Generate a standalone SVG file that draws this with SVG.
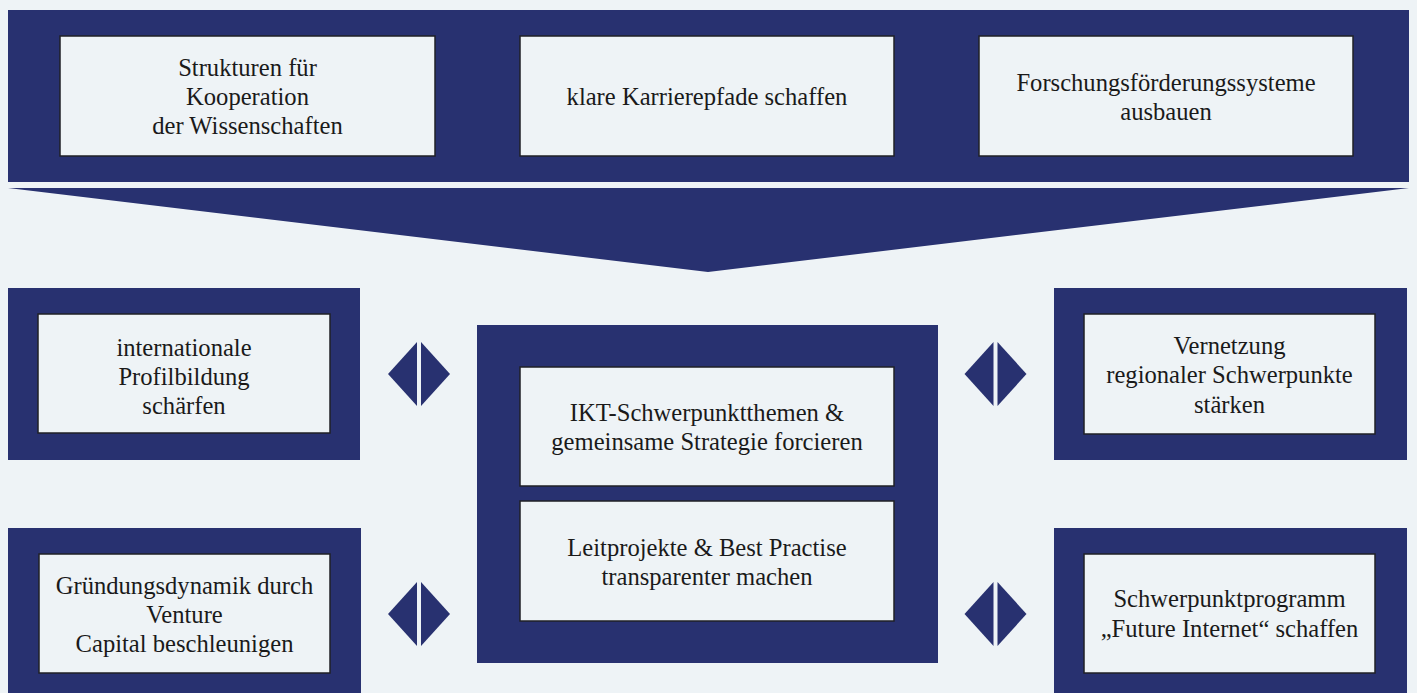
<svg xmlns="http://www.w3.org/2000/svg" width="1417" height="693" viewBox="0 0 1417 693">
  <style>
    .band { fill: #283170; }
    .box { fill: #eef3f6; stroke: #1f2126; stroke-width: 1.5; }
    .lbl { font-family: "Liberation Serif", "DejaVu Serif", serif; font-size: 24.6px; fill: #1a1a1a; text-anchor: middle; }
    .arr { fill: #283170; }
  </style>
  <defs>
    <!-- split diamond: two triangles facing apart -->
    <g id="splitDiamond">
      <polygon class="arr" points="-31,0 -2,-32 -2,32"/>
      <polygon class="arr" points="31,0 2,-32 2,32"/>
    </g>
  </defs>
  <rect width="1417" height="693" fill="#eef3f6"/>

  <!-- top band with three goals -->
  <g id="top-band">
    <rect class="band" x="8" y="10" width="1401" height="172"/>
    <polygon class="band" points="8,188 1409,188 708,272"/>
  </g>
  <g id="n-strukturen">
    <rect class="box" x="60" y="36" width="375" height="120"/>
    <text class="lbl" x="247.5" y="76">Strukturen für</text>
    <text class="lbl" x="247.5" y="105">Kooperation</text>
    <text class="lbl" x="247.5" y="134">der Wissenschaften</text>
  </g>
  <g id="n-karriere">
    <rect class="box" x="520" y="36" width="374" height="120"/>
    <text class="lbl" x="707" y="105">klare Karrierepfade schaffen</text>
  </g>
  <g id="n-forschung">
    <rect class="box" x="979" y="36" width="374" height="120"/>
    <text class="lbl" x="1166" y="91">Forschungsförderungssysteme</text>
    <text class="lbl" x="1166" y="120">ausbauen</text>
  </g>

  <!-- centre block -->
  <g id="center">
    <rect class="band" x="477" y="325" width="461" height="338"/>
    <g id="n-ikt">
      <rect class="box" x="520" y="367" width="374" height="119"/>
      <text class="lbl" x="707" y="421">IKT-Schwerpunktthemen &amp;</text>
      <text class="lbl" x="707" y="450">gemeinsame Strategie forcieren</text>
    </g>
    <g id="n-leitprojekte">
      <rect class="box" x="520" y="501" width="374" height="120"/>
      <text class="lbl" x="707" y="556">Leitprojekte &amp; Best Practise</text>
      <text class="lbl" x="707" y="585">transparenter machen</text>
    </g>
  </g>

  <g id="n-international">
    <rect class="band" x="8" y="288" width="352" height="172"/>
    <rect class="box" x="38" y="314" width="292" height="119"/>
    <text class="lbl" x="184" y="356">internationale</text>
    <text class="lbl" x="184" y="385">Profilbildung</text>
    <text class="lbl" x="184" y="414">schärfen</text>
  </g>
  <g id="n-vernetzung">
    <rect class="band" x="1054" y="288" width="353" height="172"/>
    <rect class="box" x="1084" y="314" width="291" height="120"/>
    <text class="lbl" x="1229.5" y="354">Vernetzung</text>
    <text class="lbl" x="1229.5" y="383">regionaler Schwerpunkte</text>
    <text class="lbl" x="1229.5" y="413">stärken</text>
  </g>
  <g id="n-gruendung">
    <rect class="band" x="8" y="528" width="353" height="170"/>
    <rect class="box" x="39" y="554" width="291" height="119"/>
    <text class="lbl" x="184.5" y="594">Gründungsdynamik durch</text>
    <text class="lbl" x="184.5" y="623">Venture</text>
    <text class="lbl" x="184.5" y="652">Capital beschleunigen</text>
  </g>
  <g id="n-future">
    <rect class="band" x="1054" y="528" width="353" height="170"/>
    <rect class="box" x="1084" y="554" width="291" height="119"/>
    <text class="lbl" x="1229.5" y="607">Schwerpunktprogramm</text>
    <text class="lbl" x="1229.5" y="637">„Future Internet“ schaffen</text>
  </g>

  <!-- connectors between centre and side blocks -->
  <g id="connectors">
    <use href="#splitDiamond" x="419" y="374"/>
    <use href="#splitDiamond" x="995.5" y="374"/>
    <use href="#splitDiamond" x="419" y="614"/>
    <use href="#splitDiamond" x="995.5" y="614"/>
  </g>
</svg>
